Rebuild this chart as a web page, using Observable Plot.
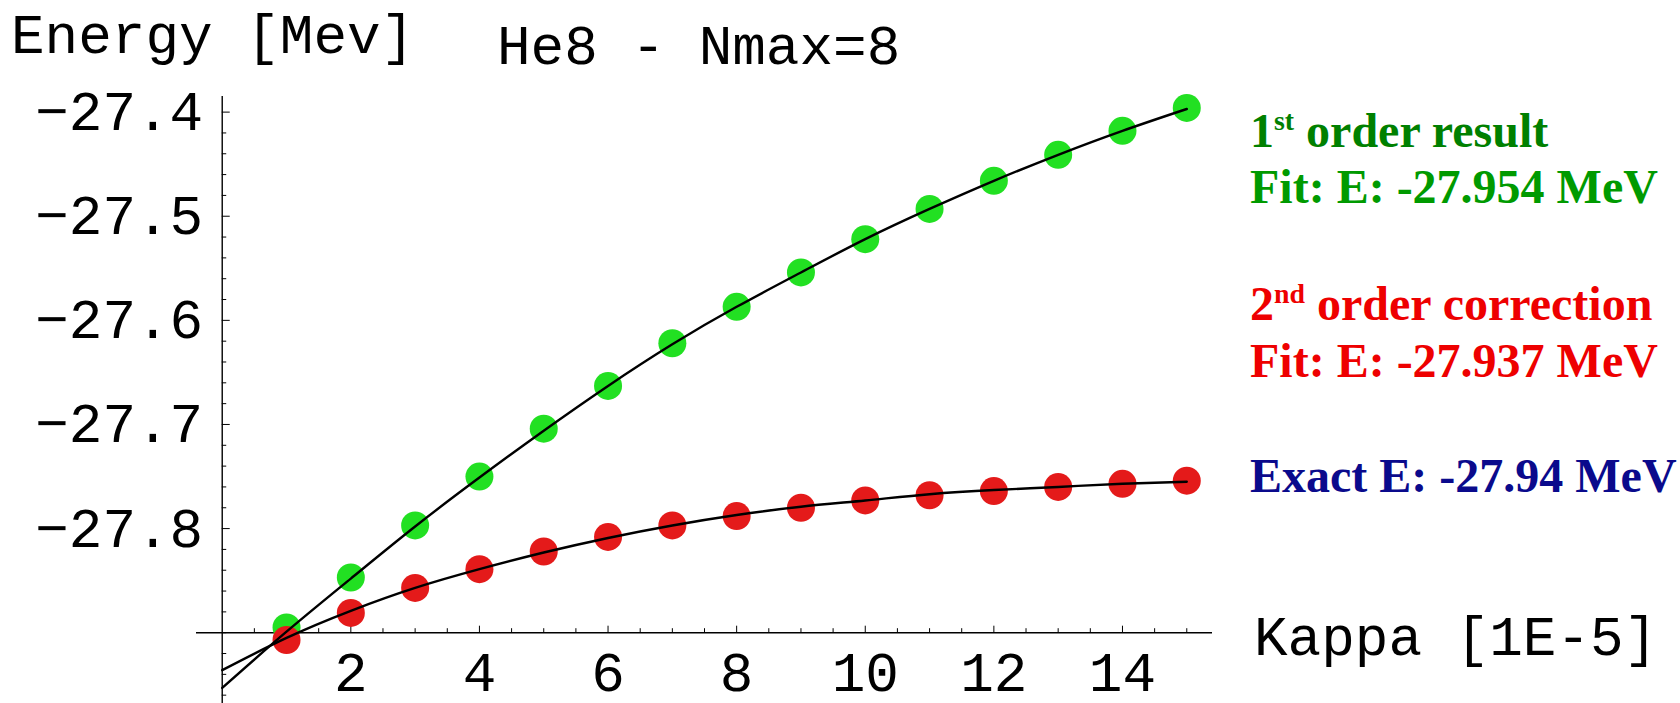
<!DOCTYPE html>
<html>
<head>
<meta charset="utf-8">
<script src="https://cdn.jsdelivr.net/npm/d3@7"></script>
<script src="https://cdn.jsdelivr.net/npm/@observablehq/plot@0.6"></script>
<style>
  html, body { margin: 0; padding: 0; background: #fff; }
  #chart { position: relative; width: 1680px; height: 703px; overflow: hidden; }
  #chart svg { display: block; }
</style>
</head>
<body>
<div id="chart"></div>
<script>
// ---- data ----
const kappa = [1, 2, 3, 4, 5, 6, 7, 8, 9, 10, 11, 12, 13, 14, 15];
const firstOrder = [-27.895, -27.847, -27.797, -27.750, -27.704, -27.663, -27.622, -27.587,
                    -27.554, -27.522, -27.493, -27.466, -27.441, -27.418, -27.396];
const secondOrder = [-27.907, -27.881, -27.857, -27.839, -27.822, -27.808, -27.797, -27.788,
                     -27.780, -27.773, -27.768, -27.764, -27.760, -27.757, -27.754];
// fitted curves at kappa = 0..15
const fitKappa = [0, 1, 2, 3, 4, 5, 6, 7, 8, 9, 10, 11, 12, 13, 14, 15];
const firstFit = [-27.953, -27.899, -27.848, -27.798, -27.751, -27.706, -27.663, -27.623,
                  -27.587, -27.554, -27.522, -27.493, -27.466, -27.441, -27.418, -27.397];
const secondFit = [-27.936, -27.905, -27.879, -27.857, -27.839, -27.823, -27.809, -27.797,
                   -27.787, -27.779, -27.773, -27.767, -27.763, -27.760, -27.757, -27.755];
const xTickLabels = [2, 4, 6, 8, 10, 12, 14];
const yTickLabels = [-27.4, -27.5, -27.6, -27.7, -27.8];

// ---- tables ----
const pts1 = kappa.map((k, i) => ({k, e: firstOrder[i]}));
const pts2 = kappa.map((k, i) => ({k, e: secondOrder[i]}));
const fit1 = fitKappa.map((k, i) => ({k, e: firstFit[i]}));
const fit2 = fitKappa.map((k, i) => ({k, e: secondFit[i]}));

const xOrigin = 0, yOrigin = -27.9;
const xMinor = d3.range(0.5, 15.01, 0.5).filter(d => !xTickLabels.includes(d));
const yAll = d3.range(-27.96, -27.399, 0.02).map(d => +d.toFixed(2));
const yMinor = yAll.filter(d => !yTickLabels.some(t => Math.abs(t - d) < 1e-6));

const mono = "'Liberation Mono', 'Courier New', monospace";
const fmt = d => "\u2212" + Math.abs(d).toFixed(1);

const chart = Plot.plot({
  width: 1680,
  height: 703,
  marginTop: 0, marginBottom: 0, marginLeft: 0, marginRight: 0,
  x: {domain: [-0.4, 15.4], range: [196, 1212], axis: null},
  y: {domain: [-27.968, -27.385], range: [703, 96], axis: null},
  style: {background: "#fff", overflow: "visible", fontFamily: mono},
  marks: [
    // axes lines
    Plot.ruleY([yOrigin], {x1: -0.4, x2: 15.4, stroke: "#000", strokeWidth: 1.4}),
    Plot.ruleX([xOrigin], {y1: -27.968, y2: -27.385, stroke: "#000", strokeWidth: 1.4}),
    // y ticks (inside, to the right)
    Plot.ruleY(yTickLabels, {y: d => d, x1: xOrigin, x2: xOrigin, insetRight: -8, stroke: "#000", strokeWidth: 1}),
    Plot.ruleY(yMinor, {y: d => d, x1: xOrigin, x2: xOrigin, insetRight: -4.5, stroke: "#000", strokeWidth: 1}),
    // x ticks (upwards)
    Plot.ruleX(xTickLabels, {x: d => d, y1: yOrigin, y2: yOrigin, insetTop: -6.5, stroke: "#000", strokeWidth: 1}),
    Plot.ruleX(xMinor, {x: d => d, y1: yOrigin, y2: yOrigin, insetTop: -4, stroke: "#000", strokeWidth: 1}),
    // tick labels
    Plot.text(yTickLabels, {x: xOrigin, y: d => d, text: fmt, textAnchor: "end", dx: -19,
      fontSize: 56, fontFamily: mono, fill: "#000"}),
    Plot.text(xTickLabels, {x: d => d, y: yOrigin, text: d => String(d), dy: 40,
      fontSize: 56, fontFamily: mono, fill: "#000"}),
    // points
    Plot.dot(pts1, {x: "k", y: "e", r: 14, fill: "#22e022", stroke: "none"}),
    Plot.dot(pts2, {x: "k", y: "e", r: 14, fill: "#e41a1a", stroke: "none"}),
    // fitted curves
    Plot.line(fit1, {x: "k", y: "e", curve: "natural", stroke: "#000", strokeWidth: 2.4}),
    Plot.line(fit2, {x: "k", y: "e", curve: "natural", stroke: "#000", strokeWidth: 2.4})
  ]
});

document.getElementById("chart").appendChild(chart);

// ---- annotations: titles, axis label, legend text ----
const svg = d3.select(chart);
function addText(x, y, parts, opts) {
  const t = svg.append("text")
    .attr("x", x).attr("y", y)
    .attr("text-anchor", "start")
    .attr("font-family", opts.family)
    .attr("font-size", opts.size)
    .attr("font-weight", opts.weight || "normal")
    .attr("fill", opts.fill || "#000")
    .style("white-space", "pre");
  parts.forEach(p => {
    const s = t.append("tspan").text(p.text);
    if (p.sup) s.attr("font-size", opts.size * 0.58).attr("baseline-shift", "62%");
  });
  return t;
}
const serif = "'Liberation Serif', 'Times New Roman', serif";
addText(11, 53, [{text: "Energy [Mev]"}], {family: mono, size: 56});
addText(497, 64, [{text: "He8 - Nmax=8"}], {family: mono, size: 56});
addText(1254, 655, [{text: "Kappa [1E-5]"}], {family: mono, size: 56});

addText(1250, 147, [{text: "1"}, {text: "st", sup: true}, {text: " order result"}],
  {family: serif, size: 48, weight: "bold", fill: "#008000"});
addText(1250, 203, [{text: "Fit: E: -27.954 MeV"}],
  {family: serif, size: 48, weight: "bold", fill: "#009a00"});
addText(1250, 320, [{text: "2"}, {text: "nd", sup: true}, {text: " order correction"}],
  {family: serif, size: 48, weight: "bold", fill: "#ee0000"});
addText(1250, 377, [{text: "Fit: E: -27.937 MeV"}],
  {family: serif, size: 48, weight: "bold", fill: "#ee0000"});
addText(1250, 492, [{text: "Exact E: -27.94 MeV"}],
  {family: serif, size: 48, weight: "bold", fill: "#0a0a8c"});
</script>
</body>
</html>
